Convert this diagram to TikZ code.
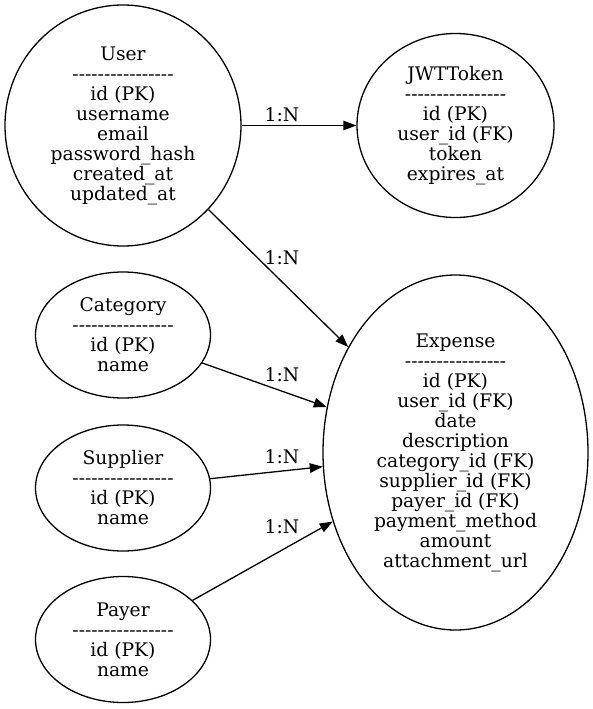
\documentclass[tikz,border=0pt]{standalone}
\usepackage{fontspec}
\newfontfamily\erfont{DejaVu Serif}
\usetikzlibrary{shapes.geometric,arrows.meta}
\begin{document}
\begin{tikzpicture}[x=1pt, y=-1pt, line width=1.3pt,
    entity/.style={draw, ellipse, inner sep=0pt, align=center,
        font=\erfont\fontsize{18.7}{20}\selectfont},
    card/.style={inner sep=0pt, font=\erfont\fontsize{18.7}{20}\selectfont},
    rel/.style={-{Triangle[length=13pt,width=9.5pt]}}]
    \useasboundingbox (0,0) rectangle (593,709);
    % 用户
    \node[entity, minimum width=236pt, minimum height=241pt] (user) at (123,125.5)
        {User\\----------------\\id (PK)\\username\\email\\password\_hash\\created\_at\\updated\_at};
    % 令牌
    \node[entity, minimum width=197pt, minimum height=184pt] (jwt) at (455.5,125.5)
        {JWTToken\\----------------\\id (PK)\\user\_id (FK)\\token\\expires\_at};
    % 分类、供应商、付款人
    \node[entity, minimum width=175pt, minimum height=126pt] (category) at (123,335)
        {Category\\----------------\\id (PK)\\name};
    \node[entity, minimum width=175pt, minimum height=126pt] (supplier) at (123,488)
        {Supplier\\----------------\\id (PK)\\name};
    \node[entity, minimum width=175pt, minimum height=126pt] (payer) at (123,639.5)
        {Payer\\----------------\\id (PK)\\name};
    % 支出
    \node[entity, minimum width=265pt, minimum height=355pt] (expense) at (455.5,452.5)
        {Expense\\----------------\\id (PK)\\user\_id (FK)\\date\\description\\category\_id (FK)\\supplier\_id (FK)\\payer\_id (FK)\\payment\_method\\amount\\attachment\_url};
    % 关系
    \draw[rel] (user) -- (jwt);
    \draw[rel] (user) -- (expense);
    \draw[rel] (category) -- (expense);
    \draw[rel] (supplier) -- (expense);
    \draw[rel] (payer) -- (expense);
    \node[card] (cardjwt) at (282,115) {1:N};
    \node[card] (cardexp) at (282,258) {1:N};
    \node[card] (cardcat) at (282,375) {1:N};
    \node[card] (cardsup) at (282,457) {1:N};
    \node[card] (cardpay) at (282,527) {1:N};
\end{tikzpicture}
\end{document}
